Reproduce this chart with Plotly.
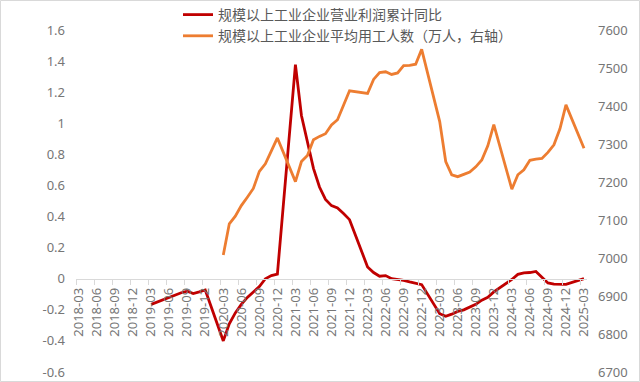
import plotly.graph_objects as go

# ---- categories (monthly, 2018-03 .. 2025-03) ----
months = []
for yr in range(2018, 2026):
    for mo in range(1, 13):
        if (yr == 2018 and mo < 3) or (yr == 2025 and mo > 3):
            continue
        months.append(f"{yr}-{mo:02d}")

# ---- series values ----
profit_start = "2019-03"
profit_yoy = [
    -0.165, -0.15, -0.13, -0.12, -0.105, -0.09, -0.08, -0.095, -0.085, -0.072,          # 2019-03..12
    None, None, -0.40, -0.29, -0.22, -0.165, -0.12, -0.085, -0.05, 0.0, 0.02, 0.03,     # 2020
    None, None, 1.377, 1.05, 0.88, 0.71, 0.59, 0.51, 0.47, 0.455, 0.42, 0.38,           # 2021
    None, None, 0.076, 0.04, 0.016, 0.02, 0.0, -0.005, -0.01, -0.02, -0.03, -0.038,     # 2022
    None, None, -0.225, -0.242, -0.228, -0.21, -0.2, -0.185, -0.165, -0.138, -0.12, -0.085,  # 2023
    None, None, -0.005, 0.028, 0.038, 0.04, 0.047, 0.01, -0.027, -0.035, -0.037, -0.036,     # 2024
    None, None, 0.001,                                                                   # 2025
]

workers_start = "2020-03"
workers = [
    7008, 7090, 7110, 7138, 7160, 7183, 7228, 7248, 7282, 7316,                          # 2020-03..12
    None, None, 7201, 7254, 7270, 7311, 7320, 7327, 7350, 7364, 7402, 7440,              # 2021
    None, None, 7433, 7470, 7488, 7490, 7483, 7487, 7506, 7507, 7510, 7549,              # 2022
    None, None, 7359, 7254, 7219, 7214, 7220, 7226, 7240, 7258, 7295, 7351,              # 2023
    None, None, 7181, 7219, 7232, 7257, 7260, 7262, 7278, 7298, 7340, 7403,              # 2024
    None, None, 7289,                                                                    # 2025
]

name_profit = "规模以上工业企业营业利润累计同比"
name_workers = "规模以上工业企业平均用工人数（万人，右轴）"

left_ticks = [1.6, 1.4, 1.2, 1.0, 0.8, 0.6, 0.4, 0.2, 0.0, -0.2, -0.4, -0.6]
left_ticktext = ["1.6", "1.4", "1.2", "1", "0.8", "0.6", "0.4", "0.2", "0", "-0.2", "-0.4", "-0.6"]
right_ticks = [7600, 7500, 7400, 7300, 7200, 7100, 7000, 6900, 6800, 6700]
label_every = 3

# ---- build x positions from categories ----
idx = {m: i for i, m in enumerate(months)}
p0 = idx[profit_start]
w0 = idx[workers_start]
x_profit = list(range(p0, p0 + len(profit_yoy)))
x_workers = list(range(w0, w0 + len(workers)))

FONT = "Noto Sans, Noto Sans CJK SC, sans-serif"
TICK_COLOR = "#767676"
AXIS_COLOR = "#d9d9d9"

fig = go.Figure()
fig.add_trace(go.Scatter(
    x=x_profit, y=profit_yoy, name=name_profit, mode="lines",
    line=dict(color="#C00000", width=2.8), connectgaps=True,
))
fig.add_trace(go.Scatter(
    x=x_workers, y=workers, name=name_workers, mode="lines", yaxis="y2",
    line=dict(color="#ED7D31", width=2.8), connectgaps=True,
))

tick_idx = list(range(0, len(months), label_every))
W, H = 640, 382
ml, mr, mt, mb = 76, 53, 30, 10
pw = W - ml - mr
ph = H - mt - mb
ymin, ymax = left_ticks[-1], left_ticks[0]

fig.update_layout(
    width=W, height=H, autosize=False,
    margin=dict(l=ml, r=mr, t=mt, b=mb, pad=0, autoexpand=False),
    paper_bgcolor="white", plot_bgcolor="white",
    font=dict(family=FONT, size=13, color=TICK_COLOR),
    showlegend=True,
    legend=dict(
        x=(178 - ml) / pw, y=(H - mb + 1) / ph, xanchor="left", yanchor="top",
        bgcolor="rgba(0,0,0,0)", font=dict(size=14, color="#595959", family=FONT),
        itemwidth=30, tracegroupgap=0,
    ),
    xaxis=dict(
        range=[-0.5, len(months) - 0.5],
        tickmode="array", tickvals=tick_idx, ticktext=[months[i] for i in tick_idx],
        tickangle=-90, ticks="", showgrid=False, zeroline=False,
        showline=True, linecolor=AXIS_COLOR, linewidth=1,
        anchor="free", position=(0 - ymin) / (ymax - ymin),
        tickfont=dict(size=13, color=TICK_COLOR),
        ticklabelstandoff=3,
        minor=dict(tickmode="array", tickvals=[i - 0.5 for i in range(0, len(months) + 1, label_every)],
                   ticks="outside", ticklen=5, tickcolor=AXIS_COLOR, tickwidth=1, showgrid=False),
    ),
    yaxis=dict(
        range=[ymin, ymax], tickmode="array", tickvals=left_ticks, ticktext=left_ticktext,
        showgrid=False, zeroline=False, showline=False, ticks="",
        tickfont=dict(size=13, color=TICK_COLOR), ticklabelstandoff=10,
    ),
    yaxis2=dict(
        range=[right_ticks[-1], right_ticks[0]], tickmode="array", tickvals=right_ticks,
        overlaying="y", side="right", showgrid=False, zeroline=False, showline=False, ticks="",
        tickfont=dict(size=13, color=TICK_COLOR), ticklabelstandoff=10,
    ),
    shapes=[dict(
        type="rect", xref="paper", yref="paper",
        x0=(-ml + 0.5) / pw, x1=1 + (mr - 0.5) / pw,
        y0=(-mb + 0.5) / ph, y1=1 + (mt - 0.5) / ph,
        line=dict(color=AXIS_COLOR, width=1), fillcolor="rgba(0,0,0,0)", layer="below",
    )],
)

fig.write_html("out.html", config={"displayModeBar": False},
               post_script="document.body.style.margin='0';document.body.style.overflow='hidden';")
